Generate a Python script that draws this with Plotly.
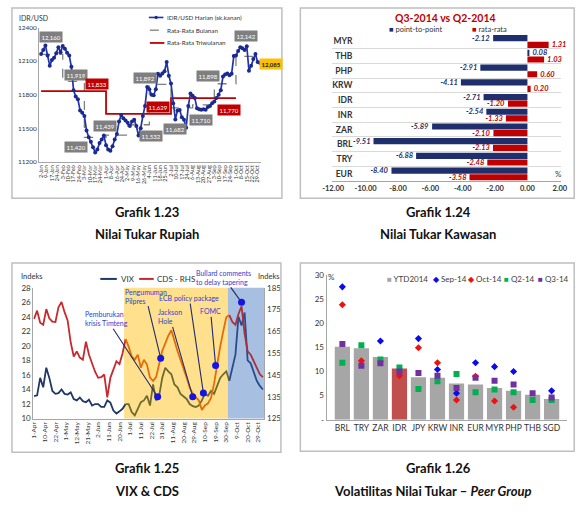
import numpy as np
import plotly.graph_objects as go

# ====================== DATA ======================
# Grafik 1.23 - Nilai Tukar Rupiah (sampled every 2nd trading day)
idr_tick_labels = ["2-Jan", "9-Jan", "17-Jan", "24-Jan", "3-Feb", "10-Feb", "17-Feb", "24-Feb",
                   "3-Mar", "10-Mar", "17-Mar", "24-Mar", "1-Apr", "8-Apr", "16-Apr", "24-Apr",
                   "2-May", "9-May", "16-May", "26-May", "4-Jun", "11-Jun", "18-Jun", "25-Jun",
                   "2-Jul", "10-Jul", "17-Jul", "24-Jul", "6-Aug", "13-Aug", "20-Aug", "27-Aug",
                   "3-Sep", "10-Sep", "17-Sep", "24-Sep", "1-Oct", "8-Oct", "15-Oct", "22-Oct", "29-Oct"]
idr_daily = [12163, 12200, 12240, 12150, 12060, 12110, 12130, 12170, 12225, 12180,
             12235, 12210, 12175, 12150, 12050, 11840, 11785, 11760, 11660, 11640,
             11610, 11480, 11420, 11380, 11330, 11285, 11310, 11370, 11400, 11435,
             11350, 11310, 11300, 11340, 11400, 11450, 11560, 11620, 11590, 11570,
             11550, 11520, 11560, 11577, 11520, 11435, 11500, 11610, 11700, 11870,
             11850, 11800, 11795, 11850, 11988, 11970, 11990, 12010, 12093, 11970,
             11900, 11725, 11580, 11660, 11663, 11600, 11577, 11505, 11700, 11812,
             11790, 11770, 11680, 11670, 11665, 11670, 11665, 11690, 11700, 11725,
             11740, 11770, 11800, 11840, 11962, 11980, 11990, 11975, 11988, 12145,
             12150, 12190, 12225, 12215, 12200, 12233, 12015, 12060, 12120, 12163,
             12093, 12085]
idr_monthly = [12160, 11919, 11420, 11439, 11532, 11892, 11682, 11710, 11898, 12142]
idr_quarterly = [11833, 11629, 11770]
idr_yticks = [11200, 11500, 11800, 12100, 12400]

# Grafik 1.24 - Nilai Tukar Kawasan
kaw_categories = ["MYR", "THB", "PHP", "KRW", "IDR", "INR", "ZAR", "BRL", "TRY", "EUR"]
kaw_p2p = [-2.12, 0.08, -2.91, -4.11, -2.71, -2.54, -5.89, -9.51, -6.88, -8.40]
kaw_avg = [1.31, 1.03, 0.60, 0.20, -1.20, -1.33, -2.10, -2.13, -2.48, -3.58]
kaw_xticks = [-12, -10, -8, -6, -4, -2, 0, 2]

# Grafik 1.25 - VIX & CDS (sampled every 2nd trading day)
vc_tick_labels = ["1-Apr", "10-Apr", "22-Apr", "1-May", "12-May", "21-May", "2-Jun", "11-Jun",
                  "20-Jun", "1-Jul", "11-Jul", "22-Jul", "31-Jul", "11-Aug", "20-Aug", "29-Aug",
                  "10-Sep", "19-Sep", "30-Sep", "9-Oct", "20-Oct", "29-Oct"]
vix = [13.1, 13.2, 15.6, 14.3, 17.0, 15.6, 13.8, 13.4, 13.5, 14.0,
       13.4, 13.3, 13.6, 12.7, 12.5, 12.9, 12.4, 12.25, 12.6, 11.8,
       12.0, 12.0, 11.6, 11.6, 12.5, 12.2, 11.1, 10.7, 11.0, 11.35,
       12.0, 12.0, 10.9, 10.45, 11.35, 12.25, 12.5, 13.15, 11.8, 14.7,
       12.5, 13.15, 15.6, 17.0, 16.5, 16.1, 14.7, 14.3, 13.4, 13.0,
       12.7, 12.0, 11.7, 11.6, 11.8, 12.5, 13.4, 13.15, 13.8, 13.4,
       14.5, 15.6, 16.1, 16.5, 15.2, 17.0, 18.8, 24.0, 22.8, 24.6,
       18.0, 17.6, 16.5, 15.2, 14.5, 14.0]
cds = [170.7, 174.5, 169, 168, 175.2, 171, 169.5, 169.3, 176, 178.5,
       173.8, 170, 160, 153.5, 155.8, 153, 152, 160.3, 154.3, 150,
       146.5, 143.7, 144, 145.2, 134.7, 143.7, 148, 151.3, 150, 155,
       161.5, 158, 153.5, 152, 154.3, 148.3, 152, 149.8, 143.8, 142.3,
       144, 150, 156, 159.5, 163, 165.5, 160.5, 156, 152, 148.3,
       143.8, 139.3, 136.3, 134.8, 133.3, 129, 131, 132, 134.5, 141,
       150.5, 158, 165, 171.5, 172.5, 169.3, 168, 173, 176.5, 164,
       155.8, 154.3, 151.3, 148.3, 145.3, 144]
event_names = ["Pemburukan<br>krisis Timteng", "Pengumuman<br>Pilpres", "Jackson<br>Hole",
               "ECB policy package", "FOMC", "Bullard comments<br>to delay tapering"]
event_day = [81, 83, 104, 111, 119, 136]
event_cds = [135, 152.7, 135, 136.7, 149.4, 178.3]
shade_yellow = (59, 127)
shade_blue = (127, 151)

# Grafik 1.26 - Volatilitas Nilai Tukar - Peer Group
peer_categories = ["BRL", "TRY", "ZAR", "IDR", "JPY", "KRW", "INR", "EUR", "MYR", "PHP", "THB", "SGD"]
peer_ytd = [15.1, 14.8, 13.0, 10.6, 8.8, 8.7, 7.5, 7.3, 6.6, 6.0, 5.2, 4.3]
peer_sep = [27.5, None, 16.3, None, 16.8, 10.4, 5.5, 11.8, 11.0, 10.0, None, 6.0]
peer_oct = [23.8, 12.2, None, 9.1, 14.9, 11.8, 4.1, 9.0, 3.9, 2.6, None, None]
peer_q2 = [11.8, 15.4, 12.5, 10.8, 6.4, 8.0, 9.5, 5.7, 6.3, 5.7, 4.1, 4.1]
peer_q3 = [15.7, 11.2, 11.7, 10.0, 9.7, 9.1, 6.6, 8.7, 8.1, 7.3, 5.5, 4.6]
peer_yticks = [0, 5, 10, 15, 20, 25, 30]

# ====================== HELPERS ======================
W, H = 588, 520
FONT = "Lato"
DARK = "#333333"
AX = "#A6A6A6"


def X(px):
    return px / W


def Y(py):
    return 1 - py / H


fig = go.Figure()
shapes = []
annotations = []


def ann(text, px, py, size=7, color=DARK, xanchor="center", bold=False, **kw):
    f = dict(family=FONT, size=size, color=color)
    if bold:
        f["weight"] = "bold"
    annotations.append(dict(text=text, x=X(px), y=Y(py), xref="paper", yref="paper",
                            showarrow=False, xanchor=xanchor, yanchor="middle", font=f, **kw))


def hline(x0, x1, py, color, width=1.5, dash="solid"):
    shapes.append(dict(type="line", xref="paper", yref="paper", x0=X(x0), x1=X(x1),
                       y0=Y(py), y1=Y(py), line=dict(color=color, width=width, dash=dash)))


# ====================== CHART 1 ======================
x1 = np.arange(len(idr_daily)) * 2
tick1 = np.arange(len(idr_tick_labels)) * 5
months = [t.split("-")[1] for t in idr_tick_labels]
mstart = [int(tick1[i]) for i in range(len(months)) if i == 0 or months[i] != months[i - 1]]
xm = mstart + [int(x1[-1])]
ym = idr_monthly + [idr_monthly[-1]]
xq = mstart[0::3][:len(idr_quarterly) + 1]
yq = idr_quarterly + [idr_quarterly[-1]]

fig.add_trace(go.Scatter(x=xm, y=ym, mode="lines", xaxis="x", yaxis="y",
                         line=dict(color="#7F7F7F", width=1.3, dash="dash", shape="hv"),
                         showlegend=False, hoverinfo="skip"))
fig.add_trace(go.Scatter(x=xq, y=yq, mode="lines", xaxis="x", yaxis="y",
                         line=dict(color="#C00000", width=1.8, shape="hv"),
                         showlegend=False, hoverinfo="skip"))
fig.add_trace(go.Scatter(x=x1, y=idr_daily, mode="lines+markers", xaxis="x", yaxis="y",
                         line=dict(color="#2234A8", width=1.7),
                         marker=dict(size=4, color="#1A2A90"), showlegend=False))

m_pos = [(42, 33), (68, 71), (68, 145), (98, 123), (145, 134), (139, 74),
         (170, 126), (197, 117), (204, 72), (243, 32)]
for v, (px, py) in zip(idr_monthly, m_pos):
    ann(f"{v:,}", px, py, size=6, color="white", bgcolor="#7F7F7F", borderpad=1.5)
q_pos = [(90, 81), (152, 104), (226, 107)]
for v, (px, py) in zip(idr_quarterly, q_pos):
    ann(f"{v:,}", px, py, size=6, color="white", bgcolor="#C00000", borderpad=1.5)
ann(f"{idr_daily[-1]:,}", 269, 60, size=6, color="#222222", bgcolor="#FFC000", borderpad=1.5, bold=True)
ann("IDR/USD", 7, 13, size=7, xanchor="left")

# legend chart 1
hline(143, 158, 12.7, "#2234A8", 1.6)
shapes.append(dict(type="circle", xref="paper", yref="paper", x0=X(148.8), x1=X(152.2),
                   y0=Y(14.4), y1=Y(11.0), fillcolor="#1A2A90", line=dict(width=0)))
ann("IDR/USD Harian (sk.kanan)", 159.5, 12.7, size=6.3, xanchor="left")
hline(144, 159, 25.7, "#7F7F7F", 1.3, "dash")
ann("Rata-Rata Bulanan", 160, 25.7, size=6.3, xanchor="left")
hline(144, 159, 38.7, "#C00000", 1.8)
ann("Rata-Rata Triwulanan", 160, 38.7, size=6.3, xanchor="left")

# ====================== CHART 2 ======================
NAVY2 = "#1F2F6E"
RED2 = "#C00000"
fig.add_trace(go.Bar(y=kaw_categories, x=kaw_p2p, orientation="h", xaxis="x2", yaxis="y2",
                     width=0.42, offset=-0.42, marker=dict(color=NAVY2, line=dict(width=0)),
                     text=[f"{v:.2f}" for v in kaw_p2p], textposition="outside", cliponaxis=False,
                     constraintext="none",
                     textfont=dict(family=FONT, size=7.5, color=NAVY2, style="italic", weight="bold"),
                     showlegend=False))
fig.add_trace(go.Bar(y=kaw_categories, x=kaw_avg, orientation="h", xaxis="x2", yaxis="y2",
                     width=0.42, offset=0.03, marker=dict(color=RED2, line=dict(width=0)),
                     text=[f"{v:.2f}" for v in kaw_avg], textposition="outside", cliponaxis=False,
                     constraintext="none",
                     textfont=dict(family=FONT, size=7.5, color=RED2, style="italic", weight="bold"),
                     showlegend=False))
ann("Q3-2014 vs Q2-2014", 448, 13, size=10.5, color="#C00000", bold=True)
ann(f"<span style='color:{NAVY2}'>■</span> point-to-point", 388, 24.5, size=7.5, xanchor="left")
ann(f"<span style='color:{RED2}'>■</span> rata-rata", 474, 24.5, size=7.5, xanchor="left")
ann("%", 565, 172, size=8, color="#404040")

# ====================== CHART 3 ======================
x3 = np.arange(len(vix)) * 2
tick3 = np.arange(len(vc_tick_labels)) * 7
b1 = int(np.ceil(shade_yellow[0] / 2) * 2)
b2 = int(np.ceil(shade_blue[0] / 2) * 2)
regions = [(x3 <= b1), (x3 >= b1) & (x3 <= b2), (x3 >= b2)]
vix_cols = ["#1F3864", "#6E6B2E", "#2B4C8C"]
cds_cols = ["#C62A2F", "#E46C0A", "#A8323C"]
vix_a = np.array(vix)
cds_a = np.array(cds)
for mask, c in zip(regions, vix_cols):
    fig.add_trace(go.Scatter(x=x3[mask], y=vix_a[mask], mode="lines", xaxis="x3", yaxis="y3",
                             line=dict(color=c, width=1.8), showlegend=False))
for mask, c in zip(regions, cds_cols):
    fig.add_trace(go.Scatter(x=x3[mask], y=cds_a[mask], mode="lines", xaxis="x3", yaxis="y4",
                             line=dict(color=c, width=1.8), showlegend=False))
fig.add_trace(go.Scatter(x=event_day, y=event_cds, mode="markers", xaxis="x3", yaxis="y4",
                         marker=dict(size=7, color="#1414E6"), showlegend=False))

shapes.append(dict(type="rect", xref="x3", yref="y3 domain", x0=shade_yellow[0], x1=shade_yellow[1],
                   y0=0, y1=1, fillcolor="#FFE08C", line=dict(width=0), layer="below"))
shapes.append(dict(type="rect", xref="x3", yref="y3 domain", x0=shade_blue[0], x1=shade_blue[1],
                   y0=0, y1=1, fillcolor="#A7BFE0", line=dict(width=0), layer="below"))

ev_off = [(-51, -78), (-15, -62), (-23, -80), (-14, -95), (-5, -54), (-18, -25)]
for name, d, v, (axp, ayp) in zip(event_names, event_day, event_cds, ev_off):
    annotations.append(dict(text=name, x=d, y=v, xref="x3", yref="y4", ax=axp, ay=ayp,
                            showarrow=True, arrowhead=0, arrowwidth=1.1, arrowcolor="#232A70",
                            standoff=3, align="left",
                            font=dict(family=FONT, size=7, color="#3340D0")))

hline(93, 110, 279.3, "#1F3864", 2)
ann("VIX", 112, 279.3, size=8, xanchor="left")
hline(133, 148, 279.3, "#C62A2F", 2)
ann("CDS - RHS", 149.5, 279.3, size=8, xanchor="left")
ann("Indeks", 9, 277, size=7.5, xanchor="left")
ann("Indeks", 253, 277, size=7.5, xanchor="left")

# ====================== CHART 4 ======================
bar_cols = ["#C0504D" if c == "IDR" else "#A6A6A6" for c in peer_categories]
fig.add_trace(go.Bar(x=peer_categories, y=peer_ytd, xaxis="x4", yaxis="y5", width=0.8,
                     marker=dict(color=bar_cols, line=dict(width=0)), showlegend=False))
for vals, sym, col, sz in [(peer_sep, "diamond", "#0A0AF0", 5.5), (peer_oct, "diamond", "#F01010", 5.5),
                           (peer_q2, "square", "#00B050", 6), (peer_q3, "square", "#7030A0", 6)]:
    fig.add_trace(go.Scatter(x=peer_categories, y=vals, mode="markers", xaxis="x4", yaxis="y5",
                             marker=dict(symbol=sym, color=col, size=sz), showlegend=False))
ann("%", 331, 277, size=8, color="#404040")
ann("<span style='color:#A6A6A6'>■</span> YTD2014", 386, 279.5, size=8, xanchor="left", color="#404040")
ann("<span style='color:#0A0AF0'>◆</span> Sep-14", 434, 279.5, size=8, xanchor="left", color="#404040")
ann("<span style='color:#F01010'>◆</span> Oct-14", 470, 279.5, size=8, xanchor="left", color="#404040")
ann("<span style='color:#00B050'>■</span> Q2-14", 507, 279.5, size=8, xanchor="left", color="#404040")
ann("<span style='color:#7030A0'>■</span> Q3-14", 542, 279.5, size=8, xanchor="left", color="#404040")

# ====================== CAPTIONS & BOXES ======================
for px, py, t in [(141, 211, "Grafik 1.23"), (141, 234, "Nilai Tukar Rupiah"),
                  (441, 211, "Grafik 1.24"), (441, 234, "Nilai Tukar Kawasan"),
                  (141, 472, "Grafik 1.25"), (141, 496, "VIX &amp; CDS"),
                  (441, 472, "Grafik 1.26"), (436, 496, "Volatilitas Nilai Tukar – <i>Peer Group</i>")]:
    ann(t, px, py, size=13, color="#111111", bold=True)

for (x0, y0, x1b, y1b) in [(2, 3, 280, 197), (299, 3, 581, 197), (2, 263, 279, 456), (299, 263, 581, 455)]:
    shapes.append(dict(type="rect", xref="paper", yref="paper", x0=X(x0), x1=X(x1b), y0=Y(y1b), y1=Y(y0),
                       line=dict(color="#BFBFBF", width=1.5), fillcolor="rgba(0,0,0,0)", layer="above"))

# ====================== LAYOUT ======================
def tf(s, weight=None):
    d = dict(family=FONT, size=s, color=DARK)
    if weight:
        d["weight"] = weight
    return d


common = dict(showgrid=False, zeroline=False, showline=True, linecolor=AX, linewidth=1, ticks="")

fig.update_layout(
    width=W, height=H, autosize=False, margin=dict(l=0, r=0, t=0, b=0, pad=0),
    paper_bgcolor="white", plot_bgcolor="white", showlegend=False, barmode="overlay",
    font=dict(family=FONT, color=DARK),
    xaxis=dict(domain=[X(30), X(258)], range=[-1.8, 202.7], anchor="y", tickmode="array",
               tickvals=tick1, ticktext=idr_tick_labels, tickangle=-90, tickfont=tf(5.5), **common),
    yaxis=dict(domain=[Y(160), Y(23)], range=[11200, 12400], anchor="x", tickmode="array",
               tickvals=idr_yticks, ticktext=[str(v) for v in idr_yticks], tickfont=tf(6.5), **common),
    xaxis2=dict(domain=[X(332), X(567)], range=[-12.05, 2.05], anchor="y2", tickmode="array",
                tickvals=kaw_xticks, ticktext=[f"{v:.2f}" for v in kaw_xticks], tickangle=0,
                tickfont=tf(7.5, weight="bold"), **common),
    yaxis2=dict(domain=[Y(179.5), Y(29.5)], anchor="x2", type="category", autorange="reversed",
                categoryorder="array", categoryarray=kaw_categories, tickson="boundaries",
                showgrid=True, gridcolor="#D9D9D9", gridwidth=1, zeroline=False, showline=False,
                ticks="", ticklabelstandoff=-21, tickfont=tf(8.5, weight="bold")),
    xaxis3=dict(domain=[X(24), X(262)], range=[-0.5, 151], anchor="y3", tickmode="array",
                tickvals=tick3, ticktext=vc_tick_labels, tickangle=-90, tickfont=tf(6.5), **common),
    yaxis3=dict(domain=[Y(421.7), Y(288.3)], range=[10, 28], anchor="x3", tickmode="linear",
                tick0=10, dtick=2, tickfont=tf(8), **common),
    yaxis4=dict(range=[125, 185], anchor="x3", overlaying="y3", side="right", tickmode="linear",
                tick0=125, dtick=10, tickfont=tf(8), **common),
    xaxis4=dict(domain=[X(326), X(574)], anchor="y5", type="category", tickangle=0,
                tickfont=tf(8.5), **common),
    yaxis5=dict(domain=[Y(423), Y(275)], range=[0, 30], anchor="x4", tickmode="array",
                tickvals=peer_yticks, ticktext=["-" if v == 0 else str(v) for v in peer_yticks],
                tickfont=tf(8), **common),
    shapes=shapes,
    annotations=annotations,
)

fig.write_html("out.html")
